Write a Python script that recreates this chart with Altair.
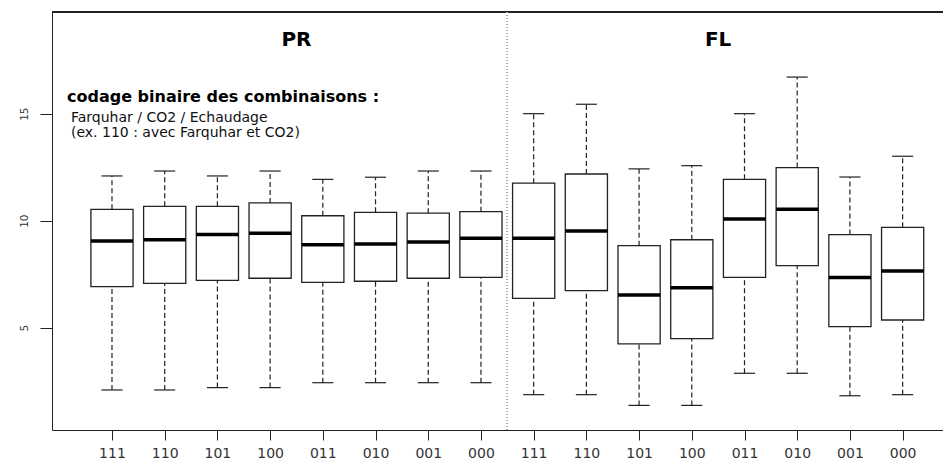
import json
import altair as alt
import pandas as pd

# ---- data ----
codes = ["111", "110", "101", "100", "011", "010", "001", "000"]
groups = ["PR", "FL"]

pr_upper = [12.09, 12.32, 12.09, 12.32, 11.93, 12.03, 12.32, 12.32]
pr_q3 = [10.53, 10.67, 10.67, 10.83, 10.23, 10.39, 10.35, 10.42]
pr_median = [9.05, 9.11, 9.36, 9.41, 8.88, 8.91, 9.00, 9.18]
pr_q1 = [6.92, 7.07, 7.21, 7.31, 7.12, 7.17, 7.31, 7.35]
pr_lower = [2.09, 2.09, 2.20, 2.20, 2.43, 2.43, 2.43, 2.43]

fl_upper = [15.00, 15.44, 12.42, 12.57, 15.00, 16.71, 12.04, 13.01]
fl_q3 = [11.75, 12.18, 8.83, 9.11, 11.93, 12.48, 9.35, 9.69]
fl_median = [9.18, 9.52, 6.53, 6.87, 10.08, 10.53, 7.35, 7.65]
fl_q1 = [6.37, 6.73, 4.24, 4.49, 7.35, 7.90, 5.05, 5.36]
fl_lower = [1.87, 1.87, 1.37, 1.37, 2.87, 2.87, 1.82, 1.87]

y_ticks = [5, 10, 15]
note_title = "codage binaire des combinaisons :"
note_lines = ["Farquhar / CO2 / Echaudage", "(ex. 110 : avec Farquhar et CO2)"]

# ---- tables ----
rows = []
pos = 1
for g, up, q3, md, q1, lo in [
    ("PR", pr_upper, pr_q3, pr_median, pr_q1, pr_lower),
    ("FL", fl_upper, fl_q3, fl_median, fl_q1, fl_lower),
]:
    for i, c in enumerate(codes):
        rows.append(dict(group=g, code=c, pos=pos, upper=up[i], q3=q3[i],
                         median=md[i], q1=q1[i], lower=lo[i]))
        pos += 1
df = pd.DataFrame(rows)

titles = pd.DataFrame({
    "group": groups,
    "center": [df[df.group == g].pos.mean() for g in groups],
})

W, H = 891, 418
FONT = "DejaVu Sans"

xscale = alt.Scale(domain=[-0.138, -0.138 + W / 52.71], nice=False, zero=False)
yscale = alt.Scale(domain=[0.22, 19.75], nice=False, zero=False)

label_expr = json.dumps(codes) + "[(datum.value - 1) % 8]"

base = alt.Chart(df).transform_calculate(
    xlo="datum.pos - 0.4", xhi="datum.pos + 0.4",
    clo="datum.pos - 0.2", chi="datum.pos + 0.2",
)

x_enc = alt.X("pos:Q", scale=xscale, axis=alt.Axis(
    values=list(range(1, 17)), labelExpr=label_expr, title=None,
    grid=False, tickSize=10, labelPadding=6, labelFont=FONT,
    labelFontSize=14, labelColor="#333333", domainColor="#222222",
    tickColor="#222222", labelFlush=False))
y_enc_axis = alt.Axis(values=y_ticks, title=None, grid=False, tickSize=12,
                      labelAngle=270, labelAlign="center", labelBaseline="bottom",
                      labelPadding=11, labelFont=FONT, labelFontSize=10.5,
                      labelColor="#333333", domainColor="#222222",
                      tickColor="#222222")

dash = [5, 3]
whisk_up = base.mark_rule(strokeDash=dash, color="#222222", strokeWidth=1.2).encode(
    x=x_enc, y=alt.Y("q3:Q", scale=yscale, axis=y_enc_axis), y2="upper:Q")
whisk_lo = base.mark_rule(strokeDash=dash, color="#222222", strokeWidth=1.2).encode(
    x="pos:Q", y="lower:Q", y2="q1:Q")
cap_up = base.mark_rule(color="#222222", strokeWidth=1.2).encode(
    x="clo:Q", x2="chi:Q", y="upper:Q")
cap_lo = base.mark_rule(color="#222222", strokeWidth=1.2).encode(
    x="clo:Q", x2="chi:Q", y="lower:Q")
box = base.mark_rect(fill="white", stroke="#222222", strokeWidth=1.3).encode(
    x="xlo:Q", x2="xhi:Q", y="q1:Q", y2="q3:Q")
med = base.mark_rule(color="black", strokeWidth=3.5, strokeCap="butt").encode(
    x="xlo:Q", x2="xhi:Q", y="median:Q")

top_border = alt.Chart(df).mark_rule(color="#222222", strokeWidth=1).encode(
    x=alt.value(0), x2=alt.value(W), y=alt.value(0))
separator = alt.Chart(df).mark_rule(color="#aaaaaa", strokeDash=[1, 2], strokeWidth=1).encode(
    x=alt.datum(8.5), y=alt.value(0), y2=alt.value(H))

title_text = alt.Chart(titles).mark_text(
    font=FONT, fontSize=20, fontWeight="bold", color="black", baseline="middle"
).encode(x="center:Q", y=alt.value(28), text="group:N")

note_df = pd.DataFrame({"t": [note_title]})
note1 = alt.Chart(note_df).mark_text(
    font=FONT, fontSize=16, fontWeight="bold", color="black",
    align="left", baseline="alphabetic").encode(
    x=alt.value(15), y=alt.value(90), text="t:N")
note_df2 = pd.DataFrame({"t": note_lines, "yy": [109.5, 124.5]})
note2 = alt.Chart(note_df2).mark_text(
    font=FONT, fontSize=14, color="#111111", align="left",
    baseline="alphabetic").encode(
    x=alt.value(19), y=alt.Y("yy:Q", scale=None), text="t:N")

chart = alt.layer(
    top_border, separator, whisk_up, whisk_lo, cap_up, cap_lo, box, med,
    title_text, note1, note2,
).properties(
    width=W, height=H,
    autosize=alt.AutoSizeParams(type="none"),
    padding={"left": 44, "top": 4, "right": 0, "bottom": 30},
    background="white",
).configure_view(stroke=None)

chart.save("out.html", embed_options={"renderer": "svg", "actions": False})
